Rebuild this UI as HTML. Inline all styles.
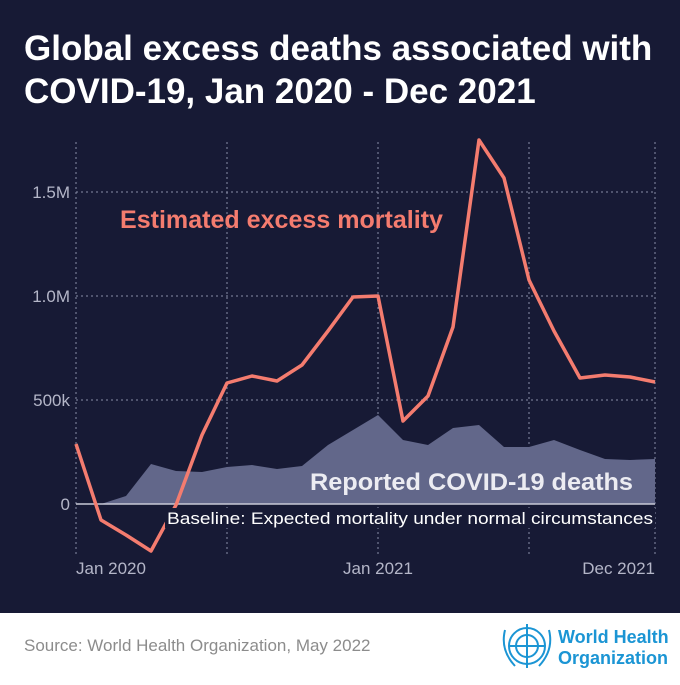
<!DOCTYPE html>
<html><head><meta charset="utf-8"><style>
body{margin:0;width:680px;height:680px;overflow:hidden;font-family:"Liberation Sans",sans-serif;}
</style></head><body>
<svg width="680" height="680" xmlns="http://www.w3.org/2000/svg" font-family="Liberation Sans, sans-serif">
<rect width="680" height="613" fill="#171a35"/>
<rect y="613" width="680" height="67" fill="#ffffff"/>
<text x="24" y="60" fill="#fff" font-size="35" font-weight="bold">Global excess deaths associated with</text>
<text x="24" y="103" fill="#fff" font-size="35" font-weight="bold">COVID-19, Jan 2020 - Dec 2021</text>
<g stroke="#8a8ea8" stroke-width="1" stroke-dasharray="2,3">
<line x1="76" y1="142" x2="76" y2="556"/><line x1="227" y1="142" x2="227" y2="556"/>
<line x1="378" y1="142" x2="378" y2="556"/><line x1="529" y1="142" x2="529" y2="556"/>
<line x1="655" y1="142" x2="655" y2="556"/>
<line x1="76" y1="192" x2="655" y2="192"/><line x1="76" y1="296" x2="655" y2="296"/><line x1="76" y1="400" x2="655" y2="400"/>
</g>
<g fill="#b4b6c8" font-size="17" text-anchor="end">
<text x="70" y="198">1.5M</text><text x="70" y="302">1.0M</text><text x="70" y="406">500k</text><text x="70" y="510">0</text>
</g>
<g fill="#b4b6c8" font-size="17">
<text x="76" y="574">Jan 2020</text><text x="378" y="574" text-anchor="middle">Jan 2021</text><text x="655" y="574" text-anchor="end">Dec 2021</text>
</g>
<polygon fill="#62678a" points="76,504 101,504 126,496 151,464 176,471 202,472 227,467 252,465 277,469 302,466 328,445 353,430 378,415 403,440 428,445 453,428 479,425 504,447 529,447 554,440 580,450 605,459 630,460 655,459 655,504"/>
<line x1="76" y1="504" x2="655" y2="504" stroke="#c8c9d6" stroke-width="1.5"/>
<polyline fill="none" stroke="#f47c6f" stroke-width="3.5" stroke-linejoin="round" points="76,444 101,520 126,535 151,551 176,505 202,435 227,383 252,376 277,381 302,365 328,331 353,297 378,296 403,421 428,396 453,327 479,140 504,178 529,280 554,331 580,378 605,375 630,377 655,382"/>
<rect x="165" y="508" width="490" height="20" fill="#171a35"/>
<text x="167" y="524" fill="#fff" font-size="17" textLength="486" lengthAdjust="spacingAndGlyphs">Baseline: Expected mortality under normal circumstances</text>
<text x="120" y="228" fill="#f47c6f" font-size="25" font-weight="bold" textLength="323" lengthAdjust="spacingAndGlyphs">Estimated excess mortality</text>
<text x="310" y="490" fill="#ececf2" font-size="24" font-weight="bold" textLength="323" lengthAdjust="spacingAndGlyphs">Reported COVID-19 deaths</text>
<text x="24" y="651" fill="#8c8c8c" font-size="17">Source: World Health Organization, May 2022</text>
<g stroke="#1b95d4" fill="none" stroke-width="2">
<circle cx="527" cy="646" r="18"/><circle cx="527" cy="646" r="11"/>
<line x1="527" y1="624" x2="527" y2="668"/><line x1="509" y1="646" x2="545" y2="646"/>
<path d="M505,630 Q500,650 515,666 M549,630 Q554,650 539,666"/>
</g>
<text x="558" y="643" fill="#1b95d4" font-size="18" font-weight="bold">World Health</text>
<text x="558" y="664" fill="#1b95d4" font-size="18" font-weight="bold">Organization</text>
</svg>
</body></html>
